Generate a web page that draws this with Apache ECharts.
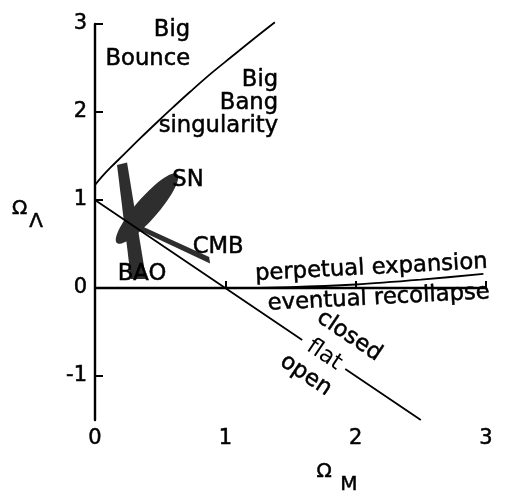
<!DOCTYPE html>
<html>
<head>
<meta charset="utf-8">
<script src="https://cdn.jsdelivr.net/npm/echarts@6/dist/echarts.min.js"></script>
<style>
  html, body { margin: 0; padding: 0; background: #fff; }
  #main { width: 508px; height: 504px; }
</style>
</head>
<body>
<div id="main"></div>
<script>
// boundary of the "no big bang" region
const bounceX = [0, 0.05, 0.12, 0.22, 0.35, 0.47, 0.6, 0.73, 0.9, 1.05, 1.2, 1.38];
const bounceY = [1.17, 1.26, 1.37, 1.515, 1.705, 1.875, 2.055, 2.23, 2.45, 2.63, 2.81, 3.02];

// expansion / recollapse boundary
const expandX = [0, 1, 1.5, 2, 2.5, 2.98];
const expandY = [0, 0, 0.01, 0.04, 0.095, 0.16];

// flat universe line, broken where "flat" sits
const flatX = [0, 1.59, null, 1.92, 2.5];
const flatY = [1, -0.59, null, -0.92, -1.5];

// constraint regions
const snCenter = [0.399, 0.903];
const snMajor = [0.231, 0.392];
const snMinor = [0.064, -0.082];
const baoX = [0.169, 0.246, 0.392, 0.276];
const baoY = [1.398, 1.426, 0.102, 0.102];
const cmbX = [0.23, 0.876, 0.883, 0.23];
const cmbY = [0.79, 0.352, 0.278, 0.733];

// annotations
const noteText = ["Big\nBounce", "Big\nBang\nsingularity", "SN", "CMB", "BAO",
  "perpetual expansion", "eventual recollapse", "closed", "flat", "open"];
const noteX = [0.73, 1.405, 0.714, 0.945, 0.361, 2.12, 2.177, 1.951, 1.759, 1.618];
const noteY = [2.77, 2.1, 1.227, 0.466, 0.16, 0.227, -0.115, -0.545, -0.761, -0.992];

const xTicks = [0, 1, 2, 3];
const yTicks = [-1, 0, 1, 2, 3];

const FONT = "DejaVu Sans";
const SHAPE = "#2e2e2e";
// the reference text is a little heavier than a plain render
const INK = { color: "#000", textBorderColor: "#000", textBorderWidth: 0.5 };

function pairs(xs, ys) {
  return xs.map((x, i) => (x === null ? ["-", "-"] : [x, ys[i]]));
}

function noteStyle(text) {
  const base = { show: true, ...INK, fontFamily: FONT, fontSize: 22.7, position: "inside" };
  if (text === "Big\nBounce") return { ...base, position: "left", distance: 0, align: "right", lineHeight: 29 };
  if (text.startsWith("Big\nBang")) return { ...base, position: "left", distance: 0, align: "right", lineHeight: 23 };
  if (text === "perpetual expansion") return { ...base, rotate: 3 };
  if (text === "eventual recollapse") return { ...base, rotate: 3 };
  if (text === "flat") return { ...base, rotate: -34, textBorderWidth: 0 };
  if (text === "closed" || text === "open") return { ...base, rotate: -34 };
  return base;
}

function polygonSeries(xs, ys) {
  return {
    type: "custom",
    silent: true,
    data: pairs(xs, ys),
    renderItem: (params, api) => {
      if (params.dataIndex !== 0) return null;
      return {
        type: "polygon",
        shape: { points: xs.map((x, i) => api.coord([x, ys[i]])) },
        style: { fill: SHAPE },
      };
    },
    z: 1,
  };
}

const chart = echarts.init(document.getElementById("main"));

const option = {
  animation: false,
  grid: { left: 95, right: 22, top: 24, bottom: 84 },
  xAxis: {
    type: "value",
    min: 0,
    max: 3,
    interval: 1,
    name: "{o|Ω} {s|M}",
    nameLocation: "middle",
    nameGap: 29,
    nameTextStyle: {
      padding: [0, 0, 0, 93],
      rich: {
        o: { fontFamily: FONT, fontSize: 20, ...INK },
        s: { fontFamily: FONT, fontSize: 20, ...INK, padding: [26, 0, 0, 5] },
      },
    },
    axisLine: { lineStyle: { color: "#000", width: 2.4 } },
    axisTick: { inside: true, length: 7, lineStyle: { color: "#000", width: 2 }, customValues: xTicks },
    axisLabel: { ...INK, fontFamily: FONT, fontSize: 21, margin: 8, customValues: xTicks },
    splitLine: { show: false },
  },
  yAxis: {
    type: "value",
    min: -1.5,
    max: 3,
    interval: 0.5,
    name: "{o|Ω}{s|Λ}",
    nameLocation: "middle",
    nameRotate: 0,
    nameGap: 52,
    nameTextStyle: {
      padding: [0, 0, 27, 0],
      rich: {
        o: { fontFamily: FONT, fontSize: 20, ...INK },
        s: { fontFamily: FONT, fontSize: 20, ...INK, padding: [26, 0, 0, 2] },
      },
    },
    axisLine: { lineStyle: { color: "#000", width: 2.4 } },
    axisTick: { inside: true, length: 8, lineStyle: { color: "#000", width: 2 }, customValues: yTicks },
    axisLabel: { ...INK, fontFamily: FONT, fontSize: 21, margin: 8, customValues: yTicks },
    splitLine: { show: false },
  },
  series: [
    {
      type: "custom",
      silent: true,
      data: [snCenter],
      renderItem: (params, api) => {
        const c = api.coord(snCenter);
        const a = api.coord([snCenter[0] + snMajor[0], snCenter[1] + snMajor[1]]);
        const b = api.coord([snCenter[0] + snMinor[0], snCenter[1] + snMinor[1]]);
        const pts = [];
        for (let k = 0; k < 72; k++) {
          const t = (k / 72) * Math.PI * 2;
          pts.push([
            c[0] + (a[0] - c[0]) * Math.cos(t) + (b[0] - c[0]) * Math.sin(t),
            c[1] + (a[1] - c[1]) * Math.cos(t) + (b[1] - c[1]) * Math.sin(t),
          ]);
        }
        return { type: "polygon", shape: { points: pts }, style: { fill: SHAPE } };
      },
      z: 1,
    },
    polygonSeries(baoX, baoY),
    polygonSeries(cmbX, cmbY),
    {
      type: "line",
      data: pairs(bounceX, bounceY),
      smooth: 0.4,
      showSymbol: false,
      clip: false,
      lineStyle: { color: "#000", width: 1.8 },
      z: 3,
    },
    {
      type: "line",
      data: pairs(expandX, expandY),
      smooth: 0.3,
      showSymbol: false,
      clip: false,
      lineStyle: { color: "#000", width: 1.8 },
      z: 3,
    },
    {
      type: "line",
      data: pairs(flatX, flatY),
      showSymbol: false,
      connectNulls: false,
      lineStyle: { color: "#000", width: 1.8 },
      z: 3,
    },
    {
      type: "scatter",
      symbolSize: 0,
      silent: true,
      itemStyle: { opacity: 1 },
      z: 5,
      data: noteText.map((t, i) => ({
        value: [noteX[i], noteY[i]],
        label: { ...noteStyle(t), formatter: t },
      })),
    },
  ],
};

chart.setOption(option);
</script>
</body>
</html>
